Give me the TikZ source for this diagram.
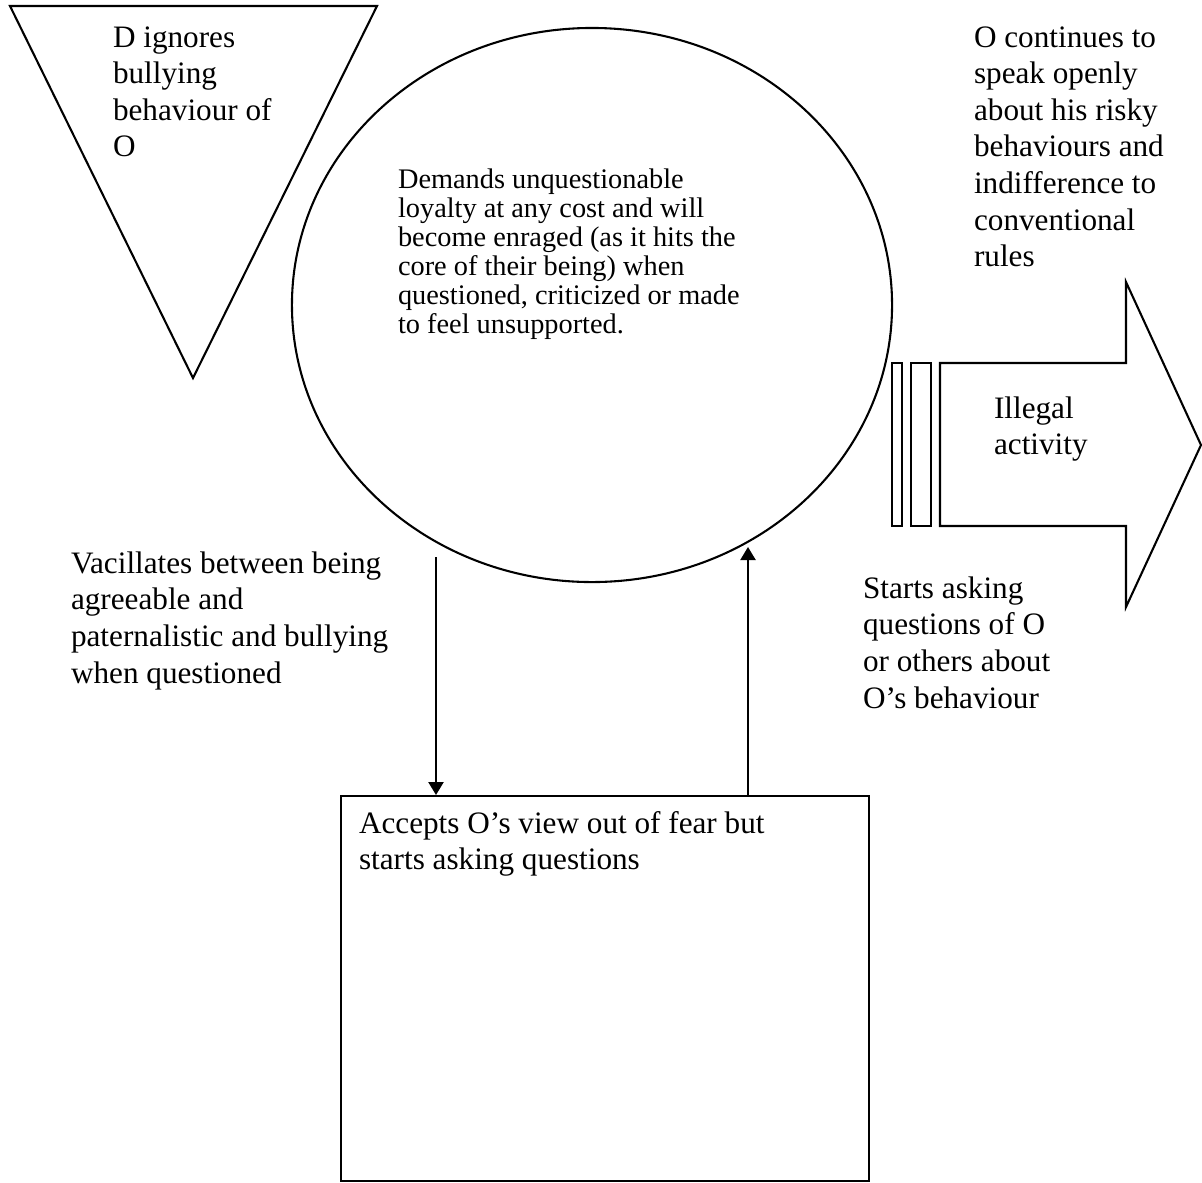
\documentclass[tikz,border=0pt]{standalone}
\usepackage{fontspec}
\setmainfont{Liberation Serif}
\usetikzlibrary{arrows.meta,shapes.geometric}
\newcommand\lns[1]{\begin{tabular}[t]{@{}l@{}}#1\end{tabular}}
\begin{document}
\begin{tikzpicture}[x=0.3846pt,y=-0.3846pt,line width=0.8pt,
  big/.style={anchor=base west,inner sep=0pt,font=\fontsize{12}{14.1}\selectfont},
  small/.style={anchor=base west,inner sep=0pt,font=\fontsize{10.9}{11.2}\selectfont},
  conn/.style={-{Triangle[width=5.8pt,length=5pt]}},
  shapeline/.style={draw=black,line width=0.8pt}]
\useasboundingbox (0,0) rectangle (1202,1182);
\fill[white] (0,0) rectangle (1202,1182);
% inverted triangle
\draw[shapeline] (10,6) -- (377,6) -- (193,378) -- cycle;
\node[big] (tri) at (112,47) {\lns{D ignores\\bullying\\behaviour of\\O}};
% ellipse
\node[shapeline,ellipse,inner sep=0pt,minimum width=230.8pt,minimum height=213.1pt] (ell) at (592,305) {};
\node[small] (elltxt) at (397,188) {\lns{Demands unquestionable\\loyalty at any cost and will\\become enraged (as it hits the\\core of their being) when\\questioned, criticized or made\\to feel unsupported.}};
% top right text
\node[big] (oc) at (973,47) {\lns{O continues to\\speak openly\\about his risky\\behaviours and\\indifference to\\conventional\\rules}};
% block arrow with stripes
\draw[shapeline] (892,363) rectangle (902,526);
\draw[shapeline] (911,363) rectangle (931,526);
\draw[shapeline] (940,363) -- (1126,363) -- (1126,282) -- (1201,445) -- (1126,607) -- (1126,526) -- (940,526) -- cycle;
\node[big] (ill) at (993,418) {\lns{Illegal\\activity}};
% side texts
\node[big] (vac) at (70,573) {\lns{Vacillates between being\\agreeable and\\paternalistic and bullying\\when questioned}};
\node[big] (sta) at (862,598) {\lns{Starts asking\\questions of O\\or others about\\O’s behaviour}};
% box
\node[shapeline,rectangle,anchor=north west,inner sep=0pt,minimum width=203.1pt,minimum height=148.1pt] (box) at (340,795) {};
\node[big] (boxtxt) at (358,833) {\lns{Accepts O’s view out of fear but\\starts asking questions}};
% connectors
\coordinate (dnS) at (436,557);
\coordinate (upE) at (748,547);
\draw[conn] (dnS) -- (dnS |- box.north);
\draw[conn] (upE |- box.north) -- (upE);
\end{tikzpicture}
\end{document}
